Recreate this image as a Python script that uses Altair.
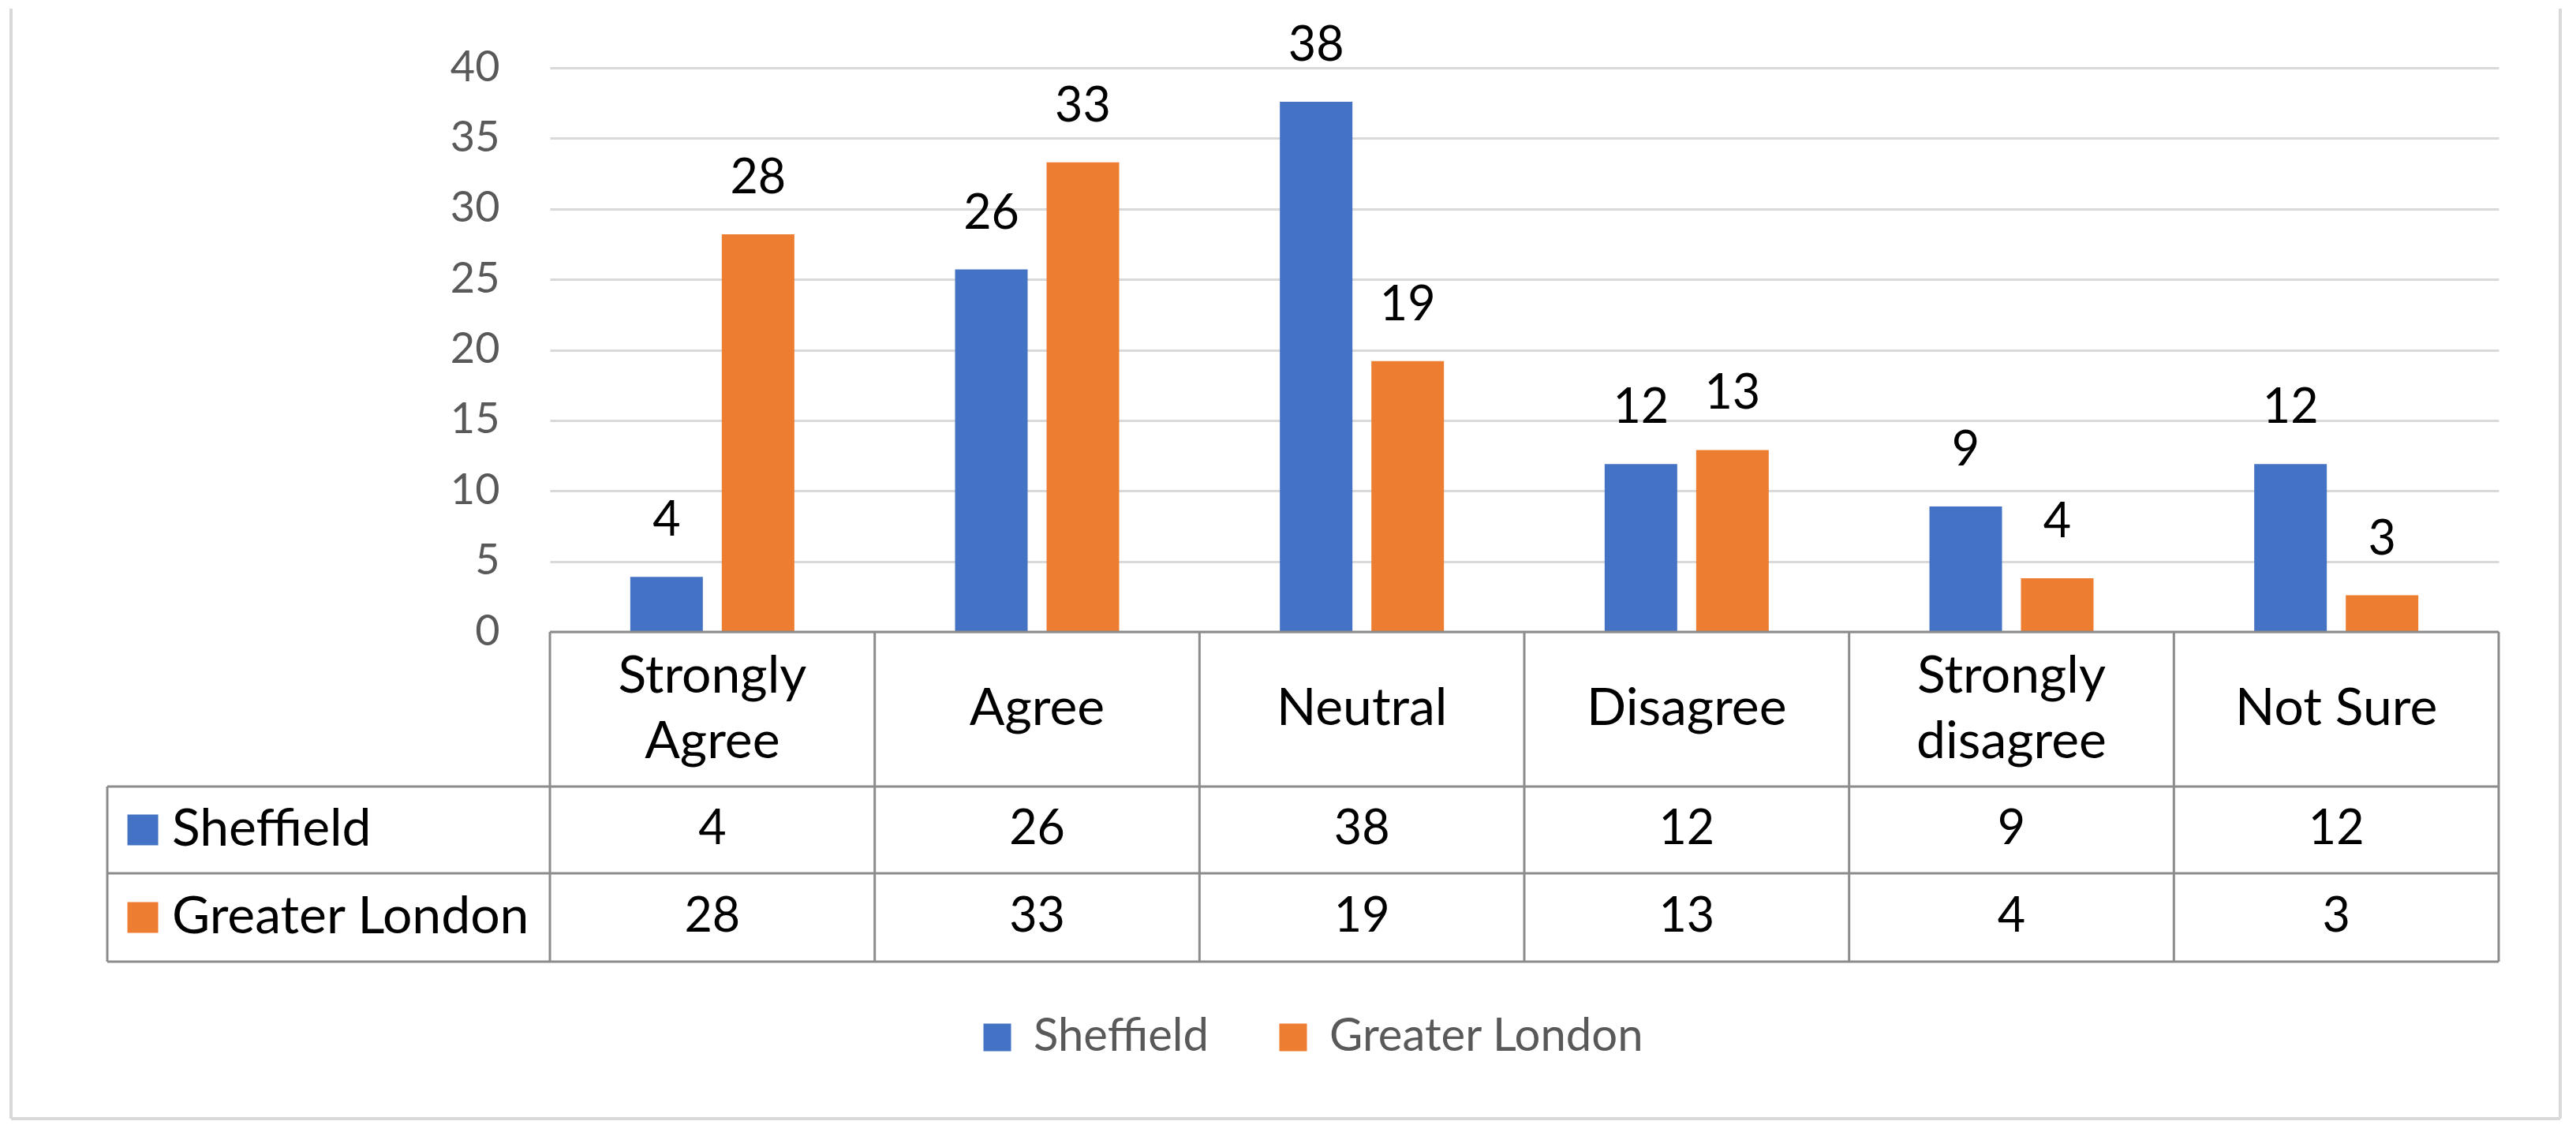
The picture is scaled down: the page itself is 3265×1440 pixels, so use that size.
import altair as alt
import pandas as pd

# ---- data ----
categories = ["Strongly Agree", "Agree", "Neutral", "Disagree", "Strongly disagree", "Not Sure"]
category_labels = ["Strongly\nAgree", "Agree", "Neutral", "Disagree", "Strongly\ndisagree", "Not Sure"]
series_names = ["Sheffield", "Greater London"]
sheffield = [3.9, 25.7, 37.6, 11.9, 8.9, 11.9]
greater_london = [28.2, 33.3, 19.2, 12.9, 3.8, 2.6]
y_ticks = [0, 5, 10, 15, 20, 25, 30, 35, 40]
colors = ["#4472C4", "#ED7D31"]

# ---- tables ----
df = pd.DataFrame({
    "category": categories * 2,
    "series": [s for s in series_names for _ in categories],
    "value": sheffield + greater_london,
})
cat_df = pd.DataFrame({"category": categories, "label": category_labels})
ser_df = pd.DataFrame({"series": series_names})
one = pd.DataFrame({"k": [0]})

# ---- layout constants (pixels, plot coords) ----
W, H = 2470, 1134
ZERO = 715
ROW_LINES = [911, 1021, 1133]
CAT_ROW_Y = 813
SERIES_ROW_Y = [966, 1077]
TABLE_LEFT = -561
TABLE_COLOR = "#8c8c8c"
BORDER = "#d9d9d9"
FONT = "Lato"
WORD_SIZE = 66
NUM_SIZE = 61
LINE_H = 83

x_enc = alt.X("category:N", sort=categories,
              scale=alt.Scale(paddingInner=0, paddingOuter=0), axis=None)
xoff = alt.XOffset("series:N", sort=series_names,
                   scale=alt.Scale(paddingInner=0.207, paddingOuter=0.878))
y_enc = alt.Y("value:Q",
              scale=alt.Scale(domain=[0, 40], range=[ZERO, 0], nice=False),
              axis=alt.Axis(values=y_ticks, title=None, domain=False, ticks=False,
                            tickSize=0, labelPadding=64, labelFontSize=54,
                            labelColor="#595959", labelFont=FONT, grid=True,
                            gridColor="#d9d9d9", gridWidth=3))
color_enc = alt.Color("series:N", sort=series_names,
                      scale=alt.Scale(domain=series_names, range=colors),
                      legend=alt.Legend(orient="none", legendX=538, legendY=1200,
                                        direction="horizontal", title=None,
                                        symbolType="square", symbolSize=1225,
                                        symbolStrokeWidth=0, labelFontSize=58,
                                        labelFont=FONT, labelColor="#595959",
                                        labelOffset=17, columnPadding=78,
                                        labelLimit=2000, padding=0, offset=0))

base = alt.Chart(df)
bars = base.mark_bar().encode(x=x_enc, xOffset=xoff, y=y_enc, color=color_enc)
bar_labels = base.mark_text(baseline="alphabetic", dy=-52, fontSize=NUM_SIZE,
                            font=FONT, color="black").encode(
    x=x_enc, xOffset=xoff, y=alt.Y("value:Q"),
    text=alt.Text("value:Q", format=".0f"))

multi = "indexof(datum.label, '\\n') >= 0"
single = "indexof(datum.label, '\\n') < 0"
cat_text_single = alt.Chart(cat_df).transform_filter(single).mark_text(
    fontSize=WORD_SIZE, font=FONT, color="black", baseline="middle").encode(
    x=x_enc, y=alt.value(CAT_ROW_Y), text="label:N")
cat_text_multi = alt.Chart(cat_df).transform_filter(multi).mark_text(
    lineBreak="\n", lineHeight=LINE_H, fontSize=WORD_SIZE, font=FONT,
    color="black", baseline="middle", dy=-LINE_H / 2).encode(
    x=x_enc, y=alt.value(CAT_ROW_Y), text="label:N")

layers = [bars, bar_labels, cat_text_single, cat_text_multi]

for i, s in enumerate(series_names):
    layers.append(
        base.transform_filter(alt.datum.series == s).mark_text(
            fontSize=NUM_SIZE, font=FONT, color="black", baseline="middle").encode(
            x=x_enc, y=alt.value(SERIES_ROW_Y[i]),
            text=alt.Text("value:Q", format=".0f")))
    layers.append(
        alt.Chart(ser_df).transform_filter(alt.datum.series == s).mark_square(
            size=1521, opacity=1).encode(
            x=alt.value(-516), y=alt.value(SERIES_ROW_Y[i]),
            color=alt.value(colors[i])))
    layers.append(
        alt.Chart(ser_df).transform_filter(alt.datum.series == s).mark_text(
            align="left", baseline="middle", fontSize=WORD_SIZE, font=FONT,
            color="black").encode(
            x=alt.value(-479), y=alt.value(SERIES_ROW_Y[i]), text="series:N"))

# table grid: vertical boundaries
layers.append(alt.Chart(cat_df).mark_rule(color=TABLE_COLOR, strokeWidth=3).encode(
    x=alt.X("category:N", sort=categories, bandPosition=0),
    y=alt.value(ZERO), y2=alt.value(ROW_LINES[-1])))
layers.append(alt.Chart(cat_df).transform_filter(alt.datum.category == categories[-1])
              .mark_rule(color=TABLE_COLOR, strokeWidth=3).encode(
    x=alt.X("category:N", sort=categories, bandPosition=1),
    y=alt.value(ZERO), y2=alt.value(ROW_LINES[-1])))
layers.append(alt.Chart(one).mark_rule(color=TABLE_COLOR, strokeWidth=3).encode(
    x=alt.value(TABLE_LEFT), y=alt.value(ROW_LINES[0]), y2=alt.value(ROW_LINES[-1])))
# table grid: horizontal lines
layers.append(alt.Chart(one).mark_rule(color=TABLE_COLOR, strokeWidth=3).encode(
    x=alt.value(0), x2=alt.value(W), y=alt.value(ZERO)))
for yl in ROW_LINES:
    layers.append(alt.Chart(one).mark_rule(color=TABLE_COLOR, strokeWidth=3).encode(
        x=alt.value(TABLE_LEFT), x2=alt.value(W), y=alt.value(yl)))

# outer chart border (left, right, bottom)
layers.append(alt.Chart(one).mark_rule(color=BORDER, strokeWidth=4).encode(
    x=alt.value(-683), y=alt.value(-75), y2=alt.value(1332)))
layers.append(alt.Chart(one).mark_rule(color=BORDER, strokeWidth=4).encode(
    x=alt.value(2548), y=alt.value(-75), y2=alt.value(1332)))
layers.append(alt.Chart(one).mark_rule(color=BORDER, strokeWidth=4).encode(
    x=alt.value(-683), x2=alt.value(2548), y=alt.value(1332)))

chart = alt.layer(*layers).properties(
    width=W, height=H,
    autosize=alt.AutoSizeParams(type="none"),
    padding={"left": 689, "top": 78, "right": 80, "bottom": 210},
    background="white",
).configure_view(stroke=None)

chart.save("out.html", embed_options={"renderer": "svg", "actions": False})
